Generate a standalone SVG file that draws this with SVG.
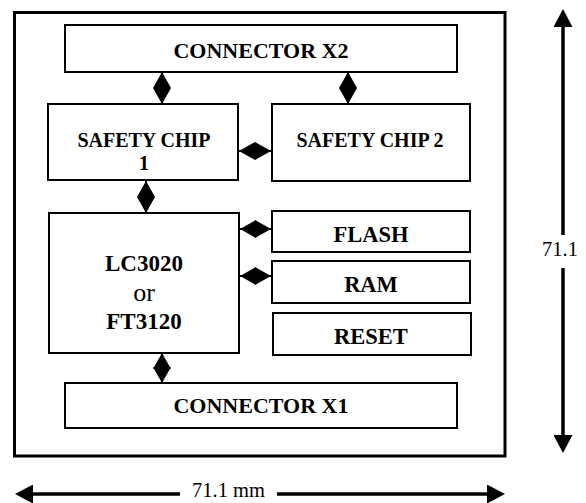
<svg xmlns="http://www.w3.org/2000/svg" width="586" height="503" viewBox="0 0 586 503">
<style>
.box{fill:#fff;stroke:#000;stroke-width:2}
.lbl{font-family:"Liberation Serif","Times New Roman",serif;font-weight:bold;text-anchor:middle;fill:#000}
.reg{font-weight:normal}
.dim{font-family:"Liberation Serif","Times New Roman",serif;font-size:20.5px;fill:#000}
.con{stroke:#000;stroke-width:2;fill:none;marker-start:url(#dh);marker-end:url(#dh)}
.dl{stroke:#000;stroke-width:3.5;fill:none}
</style>
<defs>
<marker id="dh" viewBox="0 0 16 18" refX="16" refY="9" markerWidth="16" markerHeight="18" markerUnits="userSpaceOnUse" orient="auto-start-reverse">
<path d="M0,0 L16,9 L0,18 z" fill="#000"/>
</marker>
<marker id="ah" viewBox="0 0 18 19" refX="0" refY="9.5" markerWidth="18" markerHeight="19" markerUnits="userSpaceOnUse" orient="auto-start-reverse">
<path d="M0,0 L18,9.5 L0,19 z" fill="#000"/>
</marker>
</defs>
<rect id="board" x="14.5" y="12.5" width="490.5" height="443.5" fill="#fff" stroke="#000" stroke-width="3"/>
<g id="connector-x2"><rect class="box" x="65" y="25" width="392" height="47"/><text class="lbl" x="261" y="58" font-size="22">CONNECTOR X2</text></g>
<g id="safety-chip-1"><rect class="box" x="48" y="104" width="190" height="76"/><text class="lbl" x="144" y="147" font-size="20">SAFETY CHIP</text><text class="lbl" x="144" y="170" font-size="20">1</text></g>
<g id="safety-chip-2"><rect class="box" x="272" y="104" width="198" height="77"/><text class="lbl" x="370" y="147" font-size="20">SAFETY CHIP 2</text></g>
<g id="lc3020"><rect class="box" x="49" y="213" width="190" height="140"/><text class="lbl" x="144" y="271" font-size="23">LC3020</text><text class="lbl reg" x="144" y="301" font-size="26">or</text><text class="lbl" x="144" y="329" font-size="23">FT3120</text></g>
<g id="flash"><rect class="box" x="272" y="211" width="198" height="41"/><text class="lbl" x="371" y="242" font-size="22.5">FLASH</text></g>
<g id="ram"><rect class="box" x="272" y="261" width="198" height="42"/><text class="lbl" x="371" y="292" font-size="22.5">RAM</text></g>
<g id="reset"><rect class="box" x="273" y="313" width="198" height="42"/><text class="lbl" x="371" y="344" font-size="22.5">RESET</text></g>
<g id="connector-x1"><rect class="box" x="65" y="383" width="392" height="45"/><text class="lbl" x="261" y="413" font-size="22">CONNECTOR X1</text></g>
<g id="connectors">
<line class="con" x1="162" y1="72" x2="162" y2="104"/>
<line class="con" x1="348" y1="72" x2="348" y2="104"/>
<line class="con" x1="239" y1="151" x2="271" y2="151"/>
<line class="con" x1="146" y1="181" x2="146" y2="213"/>
<line class="con" x1="240" y1="229" x2="271" y2="229"/>
<line class="con" x1="240" y1="276" x2="271" y2="276"/>
<line class="con" x1="162" y1="353" x2="162" y2="383"/>
</g>
<g id="dimensions">
<line class="dl" x1="563" y1="27" x2="563" y2="235" marker-start="url(#ah)"/>
<line class="dl" x1="563" y1="268" x2="563" y2="435" marker-end="url(#ah)"/>
<text class="dim" x="542" y="256">71.1</text>
<line class="dl" x1="33" y1="494" x2="180" y2="494" marker-start="url(#ah)"/>
<line class="dl" x1="277" y1="494" x2="487" y2="494" marker-end="url(#ah)"/>
<text class="dim" x="192" y="497">71.1 mm</text>
</g>
</svg>
